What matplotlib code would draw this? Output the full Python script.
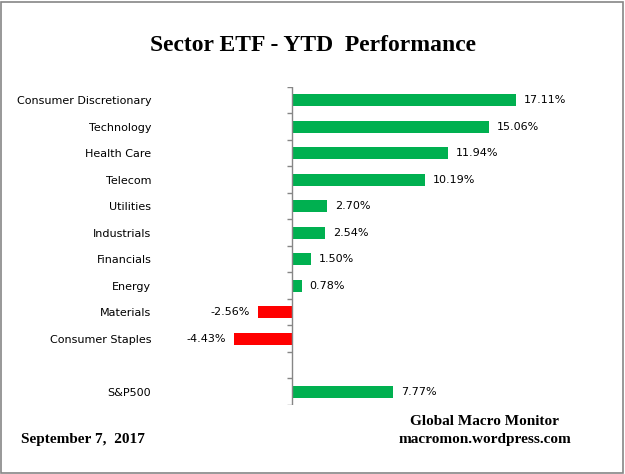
import numpy as np
import matplotlib
matplotlib.use('Agg')
import matplotlib.pyplot as plt
from matplotlib.patches import Rectangle

# chart data, top to bottom ('' is the empty gap row)
sectors = ['Consumer Discretionary', 'Technology', 'Health Care', 'Telecom',
           'Utilities', 'Industrials', 'Financials', 'Energy', 'Materials',
           'Consumer Staples', '', 'S&P500']
ytd = [17.11, 15.06, 11.94, 10.19, 2.70, 2.54, 1.50, 0.78, -2.56, -4.43,
       None, 7.77]

GREEN = '#00B050'
RED = '#FF0000'

fig = plt.figure(figsize=(6.25, 4.74), dpi=100)
ax = fig.add_axes([0.251, 0.1456, 0.645, 0.671])

pos = np.arange(len(sectors))
for i, v in enumerate(ytd):
    if v is None:
        continue
    ax.barh(pos[i], v, height=0.45, color=GREEN if v >= 0 else RED)
    if v >= 0:
        ax.text(v + 0.6, pos[i], '%.2f%%' % v, va='center', ha='left', fontsize=8)
    else:
        ax.text(v - 0.6, pos[i], '%.2f%%' % v, va='center', ha='right', fontsize=8)

ax.set_xlim(-10.3, 20.5)
ax.set_ylim(len(sectors) - 0.5, -0.5)
ax.set_yticks(pos)
ax.set_yticklabels(sectors, fontsize=8)
ax.tick_params(axis='y', length=0, pad=4)
ax.set_xticks([])
for s in ax.spines.values():
    s.set_visible(False)

# category axis at zero with boundary tick marks
ax.axvline(0, color='#868686', lw=1)
bounds = np.arange(len(sectors) + 1) - 0.5
ax.hlines(bounds, -0.38, 0, color='#868686', lw=1)

fig.text(0.5, 0.905, 'Sector ETF - YTD  Performance', ha='center', va='center',
         fontsize=17, fontweight='bold', family='Liberation Serif')
fig.text(0.776, 0.11, 'Global Macro Monitor', ha='center', va='center',
         fontsize=11, fontweight='bold', family='Liberation Serif')
fig.text(0.776, 0.072, 'macromon.wordpress.com', ha='center', va='center',
         fontsize=11, fontweight='bold', family='Liberation Serif')
fig.text(0.033, 0.072, 'September 7,  2017', ha='left', va='center',
         fontsize=11, fontweight='bold', family='Liberation Serif')

fig.patches.append(Rectangle((0.002, 0.003), 0.995, 0.993, transform=fig.transFigure,
                             fill=False, edgecolor='#868686', lw=1.2))

fig.savefig('out.png', dpi=100)
